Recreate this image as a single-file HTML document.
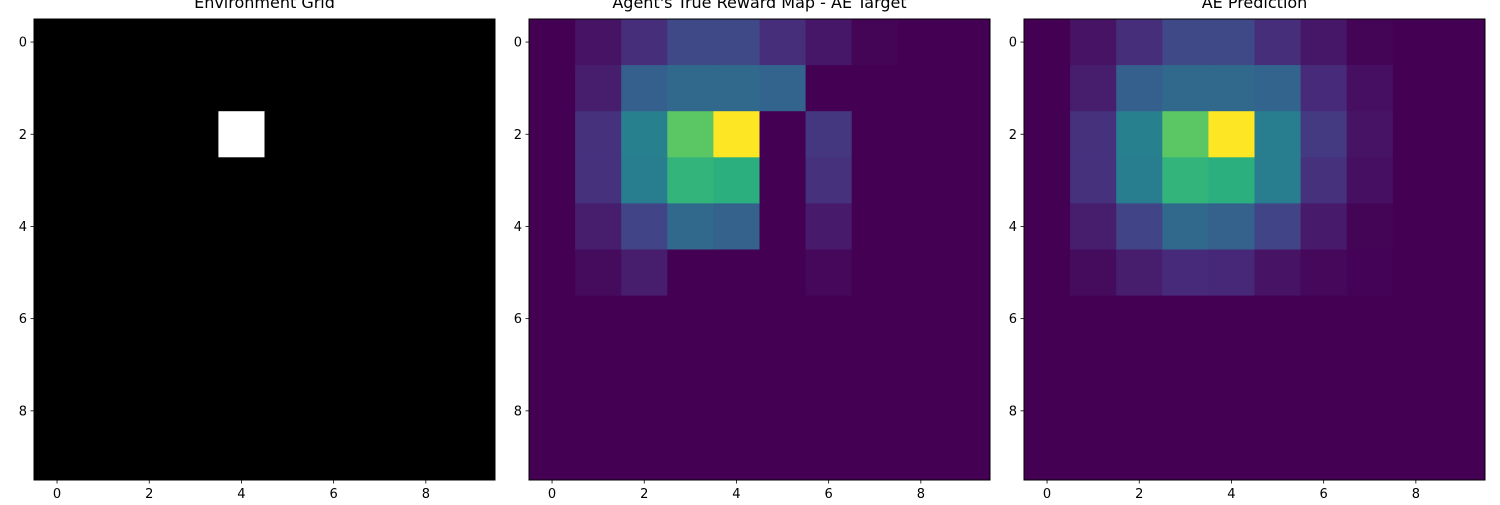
<!DOCTYPE html>
<html><head><meta charset="utf-8"><style>
body{margin:0;background:#fff;width:1500px;height:500px;overflow:hidden}
svg text{font-family:"DejaVu Sans","Liberation Sans",sans-serif;fill:#000}
</style></head><body>
<svg id="fig" width="1500" height="500" xmlns="http://www.w3.org/2000/svg"></svg>
<script>
const envGrid=[
[0,0,0,0,0,0,0,0,0,0],[0,0,0,0,0,0,0,0,0,0],[0,0,0,0,1,0,0,0,0,0],[0,0,0,0,0,0,0,0,0,0],[0,0,0,0,0,0,0,0,0,0],
[0,0,0,0,0,0,0,0,0,0],[0,0,0,0,0,0,0,0,0,0],[0,0,0,0,0,0,0,0,0,0],[0,0,0,0,0,0,0,0,0,0],[0,0,0,0,0,0,0,0,0,0]];
const targetMap=[
[0,0.05,0.13,0.22,0.22,0.13,0.06,0.01,0,0],
[0,0.08,0.30,0.34,0.34,0.32,0,0,0,0],
[0,0.14,0.43,0.74,1.00,0,0.16,0,0,0],
[0,0.14,0.42,0.65,0.63,0,0.14,0,0,0],
[0,0.08,0.20,0.34,0.31,0,0.07,0,0,0],
[0,0.03,0.08,0,0,0,0.02,0,0,0],
[0,0,0,0,0,0,0,0,0,0],[0,0,0,0,0,0,0,0,0,0],[0,0,0,0,0,0,0,0,0,0],[0,0,0,0,0,0,0,0,0,0]];
const predMap=[
[0,0.05,0.13,0.22,0.22,0.13,0.06,0.01,0,0],
[0,0.08,0.30,0.34,0.34,0.32,0.12,0.04,0,0],
[0,0.14,0.43,0.74,1.00,0.42,0.17,0.05,0,0],
[0,0.14,0.42,0.65,0.63,0.42,0.14,0.04,0,0],
[0,0.08,0.20,0.34,0.31,0.20,0.07,0.01,0,0],
[0,0.03,0.08,0.12,0.11,0.05,0.02,0.005,0,0],
[0,0,0,0,0,0,0,0,0,0],[0,0,0,0,0,0,0,0,0,0],[0,0,0,0,0,0,0,0,0,0],[0,0,0,0,0,0,0,0,0,0]];
const tickLabels=[0,2,4,6,8];
const titles=["Environment Grid","Agent's True Reward Map - AE Target","AE Prediction"];
const vir=["#440154","#482475","#414487","#355f8d","#2a788e","#21918c","#22a884","#44bf70","#7ad151","#bddf26","#fde725"];
function hex(c){return [1,3,5].map(i=>parseInt(c.substr(i,2),16));}
function viridis(v){v=Math.max(0,Math.min(1,v))*10;const i=Math.min(9,Math.floor(v)),f=v-i;const a=hex(vir[i]),b=hex(vir[i+1]);return `rgb(${a.map((x,k)=>Math.round(x+(b[k]-x)*f)).join(',')})`;}
function gray(v){const g=Math.round(v*255);return `rgb(${g},${g},${g})`;}
const NS="http://www.w3.org/2000/svg",svgRoot=document.getElementById('fig');
function el(t,a,p){const e=document.createElementNS(NS,t);for(const k in a)e.setAttribute(k,a[k]);(p||svgRoot).appendChild(e);return e;}
const lefts=[34,529,1024],axTop=19,axSize=461,nCells=10,cs=axSize/nCells;
const datas=[envGrid,targetMap,predMap],cmaps=[gray,viridis,viridis];
datas.forEach((d,p)=>{
 const L=lefts[p];
 const g=el('g',{});
 
 
 const sx=c=>L+c*cs, sy=r=>axTop+r*cs;
 d.forEach((row,r)=>row.forEach((v,c)=>{
  const rc=el('rect',{x:sx(c),y:sy(r),width:cs+0.5,height:cs+0.5,fill:cmaps[p](v)},g);
  
  
 }));
 const fr=el('rect',{x:L,y:axTop,width:axSize,height:axSize,fill:'none',stroke:'#000','stroke-width':1},g);
 
 
 tickLabels.forEach(t=>{
  const x=sx(t+0.5),y=sy(t+0.5);
  el('line',{x1:x,x2:x,y1:axTop+axSize,y2:axTop+axSize+3.5,stroke:'#000','stroke-width':0.8},g);
  const tx=el('text',{x:x,y:axTop+axSize+18,'text-anchor':'middle','font-size':13},g);tx.textContent=t;
  
  
  el('line',{x1:L-3.5,x2:L,y1:y,y2:y,stroke:'#000','stroke-width':0.8},g);
  const ty=el('text',{x:L-7,y:y+4.5,'text-anchor':'end','font-size':13},g);ty.textContent=t;
  
  
 });
 const ti=el('text',{x:L+axSize/2,y:8,'text-anchor':'middle','font-size':16},g);ti.textContent=titles[p];
 
 
});
</script>
</body></html>
